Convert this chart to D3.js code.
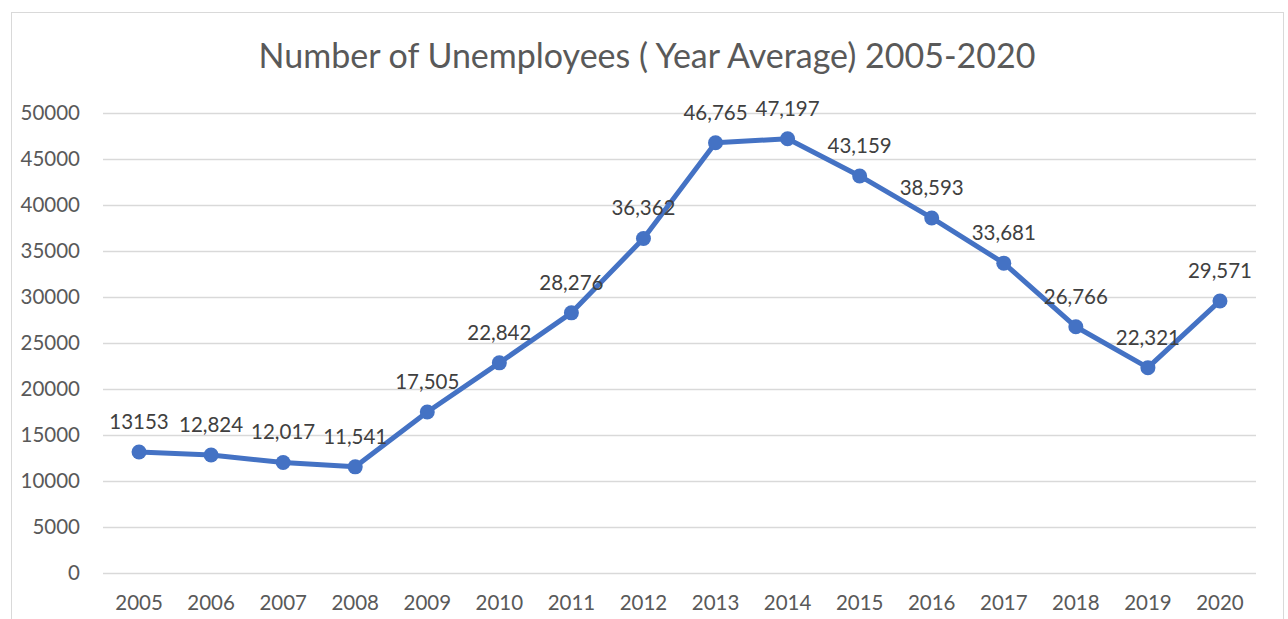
<!DOCTYPE html>
<html>
<head>
<meta charset="utf-8">
<script src="https://cdn.jsdelivr.net/npm/d3@7"></script>
<style>
  body { margin: 0; background: #fff; }
  svg { display: block; font-family: Lato, "Open Sans", sans-serif; }
</style>
</head>
<body>
<div id="chart"></div>
<script>
// data
const years = ['2005','2006','2007','2008','2009','2010','2011','2012','2013','2014','2015','2016','2017','2018','2019','2020'];
const unemployed = [13153, 12824, 12017, 11541, 17505, 22842, 28276, 36362, 46765, 47197, 43159, 38593, 33681, 26766, 22321, 29571];
const valueLabels = ['13153','12,824','12,017','11,541','17,505','22,842','28,276','36,362','46,765','47,197','43,159','38,593','33,681','26,766','22,321','29,571'];
const yTicks = [0, 5000, 10000, 15000, 20000, 25000, 30000, 35000, 40000, 45000, 50000];

const W = 1288, H = 619;
const margin = { left: 103, right: 32, top: 113, bottom: 46 };
const FONT = 'Lato, "Open Sans", sans-serif';

const svg = d3.select('#chart').append('svg')
  .attr('width', W).attr('height', H);

// chart frame
svg.append('rect')
  .attr('x', 11.5).attr('y', 12.5)
  .attr('width', 1272).attr('height', 640)
  .attr('fill', '#fff').attr('stroke', '#d9d9d9').attr('stroke-width', 1);

// title
svg.append('text')
  .attr('x', 647).attr('y', 68)
  .attr('text-anchor', 'middle')
  .attr('font-size', '34px')
  .attr('fill', '#595959')
  .text('Number of Unemployees ( Year Average) 2005-2020');

const x = d3.scaleBand()
  .domain(years)
  .range([margin.left, W - margin.right]);

const y = d3.scaleLinear()
  .domain([0, 50000])
  .range([H - margin.bottom, margin.top]);

// gridlines
svg.append('g')
  .selectAll('line')
  .data(yTicks).enter()
  .append('line')
    .attr('x1', margin.left).attr('x2', W - margin.right)
    .attr('y1', d => Math.round(y(d)) + 0.5).attr('y2', d => Math.round(y(d)) + 0.5)
    .attr('stroke', '#d9d9d9').attr('stroke-width', 1.5);

// y axis labels
const yAxis = d3.axisLeft(y).tickValues(yTicks).tickSize(0).tickPadding(0).tickFormat(d3.format('d'));
svg.append('g')
  .attr('transform', `translate(80,0)`)
  .call(yAxis)
  .call(g => g.select('.domain').remove())
  .selectAll('text')
    .attr('font-size', '20.5px')
    .attr('font-family', FONT)
    .attr('fill', '#595959');

// x axis labels
const xAxis = d3.axisBottom(x).tickSize(0).tickPadding(0);
svg.append('g')
  .attr('transform', `translate(0,${H - margin.bottom + 22})`)
  .call(xAxis)
  .call(g => g.select('.domain').remove())
  .selectAll('text')
    .attr('font-size', '20.5px')
    .attr('font-family', FONT)
    .attr('fill', '#595959');

const pts = years.map((yr, i) => ({ yr, v: unemployed[i], label: valueLabels[i] }));
const cx = d => x(d.yr) + x.bandwidth() / 2;

// line
svg.append('path')
  .datum(pts)
  .attr('d', d3.line().x(cx).y(d => y(d.v)))
  .attr('fill', 'none')
  .attr('stroke', '#4472c4')
  .attr('stroke-width', 5)
  .attr('stroke-linejoin', 'round');

// markers
svg.append('g')
  .selectAll('circle')
  .data(pts).enter()
  .append('circle')
    .attr('cx', cx).attr('cy', d => y(d.v))
    .attr('r', 7.5)
    .attr('fill', '#4472c4');

// data labels
svg.append('g')
  .selectAll('text')
  .data(pts).enter()
  .append('text')
    .attr('x', cx).attr('y', d => y(d.v) - 23)
    .attr('text-anchor', 'middle')
    .attr('font-size', '20.5px')
    .attr('fill', '#404040')
    .text(d => d.label);
</script>
</body>
</html>
